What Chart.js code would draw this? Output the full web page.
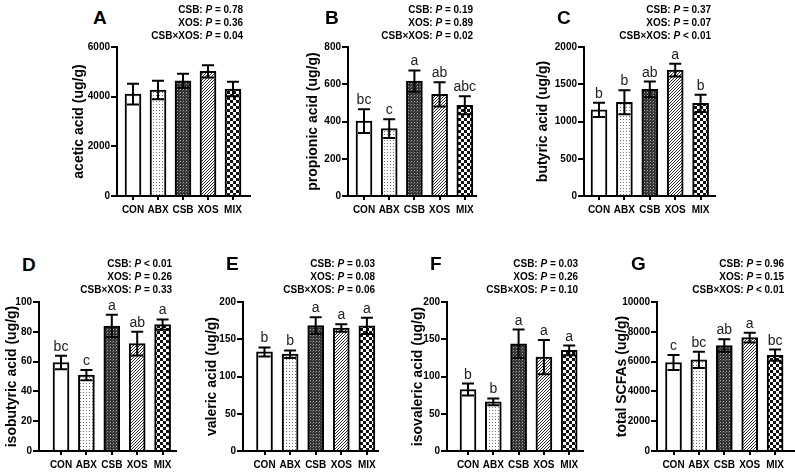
<!DOCTYPE html>
<html lang="en">
<head>
<meta charset="UTF-8">
<title>SCFAs</title>
<script src="https://cdn.jsdelivr.net/npm/chart.js"></script>
<style>
  body { margin: 0; background: #fff; width: 795px; height: 474px; position: relative; overflow: hidden;
         font-family: "Liberation Sans", Arial, sans-serif; color: #000; }
  canvas { position: absolute; }
  .tag { position: absolute; font-weight: bold; font-size: 19px; line-height: 19px; }
  .pv { position: absolute; font-weight: bold; font-size: 10px; line-height: 13px; text-align: right; white-space: nowrap; }
</style>
</head>
<body>
<script>
// groups on the x axis
const groups = ['CON', 'ABX', 'CSB', 'XOS', 'MIX'];
const pFactors = ['CSB', 'XOS', 'CSB\u00d7XOS'];

// A - acetic acid
const aceticMean = [4100, 4270, 4640, 5020, 4310];
const aceticSD = [420, 370, 280, 250, 290];
const aceticP = ['= 0.78', '= 0.36', '= 0.04'];

// B - propionic acid
const propionicMean = [402, 362, 617, 546, 487];
const propionicSD = [64, 50, 57, 65, 48];
const propionicSig = ['bc', 'c', 'a', 'ab', 'abc'];
const propionicP = ['= 0.19', '= 0.89', '= 0.02'];

// C - butyric acid
const butyricMean = [1156, 1258, 1431, 1689, 1244];
const butyricSD = [95, 160, 105, 85, 115];
const butyricSig = ['b', 'b', 'ab', 'a', 'b'];
const butyricP = ['= 0.37', '= 0.07', '< 0.01'];

// D - isobutyric acid
const isobutyricMean = [59.4, 50.9, 83.9, 72.1, 84.8];
const isobutyricSD = [4.5, 3.5, 7.5, 8, 3.5];
const isobutyricSig = ['bc', 'c', 'a', 'ab', 'a'];
const isobutyricP = ['< 0.01', '= 0.26', '= 0.33'];

// E - valeric acid
const valericMean = [133, 130, 168.5, 165, 168];
const valericSD = [6, 5, 11, 5, 11];
const valericSig = ['b', 'b', 'a', 'a', 'a'];
const valericP = ['= 0.03', '= 0.08', '= 0.06'];

// F - isovaleric acid
const isovalericMean = [82.6, 66, 144, 126, 135];
const isovalericSD = [8, 4.5, 19, 23, 6.5];
const isovalericSig = ['b', 'b', 'a', 'a', 'a'];
const isovalericP = ['= 0.03', '= 0.26', '= 0.10'];

// G - total SCFAs
const totalMean = [5937, 6116, 7076, 7612, 6429];
const totalSD = [500, 550, 420, 330, 380];
const totalSig = ['c', 'bc', 'ab', 'a', 'bc'];
const totalP = ['= 0.96', '= 0.15', '< 0.01'];

// y axis ranges
const yMax = [6000, 800, 2000, 100, 200, 200, 10000];
const yStep = [2000, 200, 500, 20, 50, 50, 2000];

Chart.defaults.font.family = '"Liberation Sans", Arial, sans-serif';
Chart.defaults.color = '#000';
Chart.defaults.animation = false;

function makePattern(w, h, draw) {
  const c = document.createElement('canvas');
  c.width = w; c.height = h;
  const g = c.getContext('2d');
  draw(g);
  return g.createPattern(c, 'repeat');
}

const fills = [
  '#ffffff',
  makePattern(3, 3, g => { g.fillStyle = '#fff'; g.fillRect(0, 0, 3, 3); g.fillStyle = '#777'; g.fillRect(1, 1, 1, 1); }),
  makePattern(3, 3, g => { g.fillStyle = '#333'; g.fillRect(0, 0, 3, 3); g.fillStyle = '#aaa'; g.fillRect(1, 1, 1, 1); g.fillStyle = '#666'; g.fillRect(0, 2, 1, 1); }),
  makePattern(3, 3, g => { g.fillStyle = '#fff'; g.fillRect(0, 0, 3, 3); g.fillStyle = '#333'; g.fillRect(0, 2, 1, 1); g.fillRect(1, 1, 1, 1); g.fillRect(2, 0, 1, 1); }),
  makePattern(6, 6, g => { g.fillStyle = '#fff'; g.fillRect(0, 0, 6, 6); g.fillStyle = '#111'; g.fillRect(0, 0, 3, 3); g.fillRect(3, 3, 3, 3); })
];

const errorBars = {
  id: 'errorBars',
  afterDatasetsDraw(chart, args, opts) {
    const ctx = chart.ctx;
    const ys = chart.scales.y;
    const pts = chart.data.datasets[0].data;
    ctx.save();
    ctx.strokeStyle = '#000';
    ctx.lineWidth = 2;
    chart.getDatasetMeta(0).data.forEach((bar, i) => {
      const m = pts[i].y, s = opts.sd[i];
      const yt = ys.getPixelForValue(m + s), yb = ys.getPixelForValue(m - s);
      ctx.beginPath();
      ctx.moveTo(bar.x, yt); ctx.lineTo(bar.x, yb);
      ctx.moveTo(bar.x - 6, yt); ctx.lineTo(bar.x + 6, yt);
      ctx.moveTo(bar.x - 6, yb); ctx.lineTo(bar.x + 6, yb);
      ctx.stroke();
      if (opts.sig) {
        ctx.fillStyle = '#222';
        ctx.font = '14px "Liberation Sans", Arial, sans-serif';
        ctx.textAlign = 'center';
        ctx.textBaseline = 'alphabetic';
        ctx.fillText(opts.sig[i], bar.x, yt - 5);
      }
    });
    ctx.restore();
  }
};

// layout of each panel (pixels)
const panels = [
  { tag: 'A', title: 'acetic acid (ug/g)', mean: aceticMean, sd: aceticSD, sig: null, p: aceticP,
    axisX: 117, c0: 133, gap: 25.0, right: 250, top: 47, zero: 196, titleX: 79, tagX: 93, tagY: 8, pRight: 243, pTop: 2.5 },
  { tag: 'B', title: 'propionic acid (ug/g)', mean: propionicMean, sd: propionicSD, sig: propionicSig, p: propionicP,
    axisX: 348, c0: 364, gap: 25.2, right: 476, top: 47, zero: 196, titleX: 313, tagX: 325, tagY: 8, pRight: 473, pTop: 2.5 },
  { tag: 'C', title: 'butyric acid (ug/g)', mean: butyricMean, sd: butyricSD, sig: butyricSig, p: butyricP,
    axisX: 584, c0: 599, gap: 25.4, right: 715, top: 47, zero: 196, titleX: 543, tagX: 557, tagY: 8, pRight: 711, pTop: 2.5 },
  { tag: 'D', title: 'isobutyric acid (ug/g)', mean: isobutyricMean, sd: isobutyricSD, sig: isobutyricSig, p: isobutyricP,
    axisX: 39, c0: 61, gap: 25.4, right: 176, top: 302, zero: 451, titleX: 12, tagX: 22, tagY: 255, pRight: 172, pTop: 257 },
  { tag: 'E', title: 'valeric acid (ug/g)', mean: valericMean, sd: valericSD, sig: valericSig, p: valericP,
    axisX: 243, c0: 264.5, gap: 25.6, right: 378, top: 302, zero: 451, titleX: 212, tagX: 226, tagY: 254, pRight: 375, pTop: 257 },
  { tag: 'F', title: 'isovaleric acid (ug/g)', mean: isovalericMean, sd: isovalericSD, sig: isovalericSig, p: isovalericP,
    axisX: 447, c0: 468, gap: 25.3, right: 583, top: 302, zero: 451, titleX: 418, tagX: 430, tagY: 254, pRight: 578, pTop: 257 },
  { tag: 'G', title: 'total SCFAs (ug/g)', mean: totalMean, sd: totalSD, sig: totalSig, p: totalP,
    axisX: 657, c0: 673.5, gap: 25.4, right: 794, top: 302, zero: 451, titleX: 622, tagX: 631, tagY: 254, pRight: 784, pTop: 257 }
];

panels.forEach((pn, k) => {
  const padTop = 10, padRight = 12, xh = 26;
  const left = Math.round(pn.titleX - 8.4);
  const yw = pn.axisX - left;
  const w = pn.right - left + padRight;
  const h = pn.zero - pn.top + padTop + xh;

  const cv = document.createElement('canvas');
  cv.width = w; cv.height = h;
  cv.style.left = left + 'px';
  cv.style.top = (pn.top - padTop) + 'px';
  cv.style.width = w + 'px';
  cv.style.height = h + 'px';
  document.body.appendChild(cv);

  const xMin = -(pn.c0 - pn.axisX) / pn.gap;
  const xMax = xMin + (pn.right - pn.axisX) / pn.gap;

  new Chart(cv, {
    type: 'bar',
    data: {
      datasets: [{
        data: pn.mean.map((m, i) => ({ x: i, y: m })),
        backgroundColor: fills,
        borderColor: '#000',
        borderWidth: 2,
        borderSkipped: 'bottom',
        barThickness: 16
      }]
    },
    options: {
      responsive: false,
      layout: { padding: { top: padTop, right: padRight, bottom: 0, left: 0 } },
      plugins: { legend: { display: false }, tooltip: { enabled: false },
                 errorBars: { sd: pn.sd, sig: pn.sig } },
      scales: {
        x: {
          type: 'linear', min: xMin, max: xMax, offset: false,
          afterBuildTicks: s => { s.ticks = groups.map((g, i) => ({ value: i })); },
          afterFit: s => { s.height = xh; },
          grid: { offset: false, drawOnChartArea: false, tickLength: 4, color: '#000', lineWidth: 2 },
          border: { color: '#000', width: 2 },
          ticks: { autoSkip: false, maxRotation: 0, padding: 4, font: { size: 10, weight: 'bold' },
                   callback: v => groups[v] }
        },
        y: {
          min: 0, max: yMax[k],
          afterFit: s => { s.width = yw; },
          grid: { drawOnChartArea: false, tickLength: 6, color: '#000', lineWidth: 2 },
          border: { color: '#000', width: 2 },
          ticks: { stepSize: yStep[k], padding: 1, font: { size: 10, weight: 'bold' }, callback: v => String(v) },
          title: { display: true, text: pn.title, padding: 0, font: { size: 14, weight: 'bold' } }
        }
      }
    },
    plugins: [errorBars]
  });

  const t = document.createElement('div');
  t.className = 'tag';
  t.textContent = pn.tag;
  t.style.left = pn.tagX + 'px';
  t.style.top = pn.tagY + 'px';
  document.body.appendChild(t);

  const pv = document.createElement('div');
  pv.className = 'pv';
  pv.style.right = (795 - pn.pRight) + 'px';
  pv.style.top = pn.pTop + 'px';
  pv.innerHTML = pFactors.map((f, i) => `${f}: <i>P</i> ${pn.p[i]}`).join('<br>');
  document.body.appendChild(pv);
});
</script>
</body>
</html>
